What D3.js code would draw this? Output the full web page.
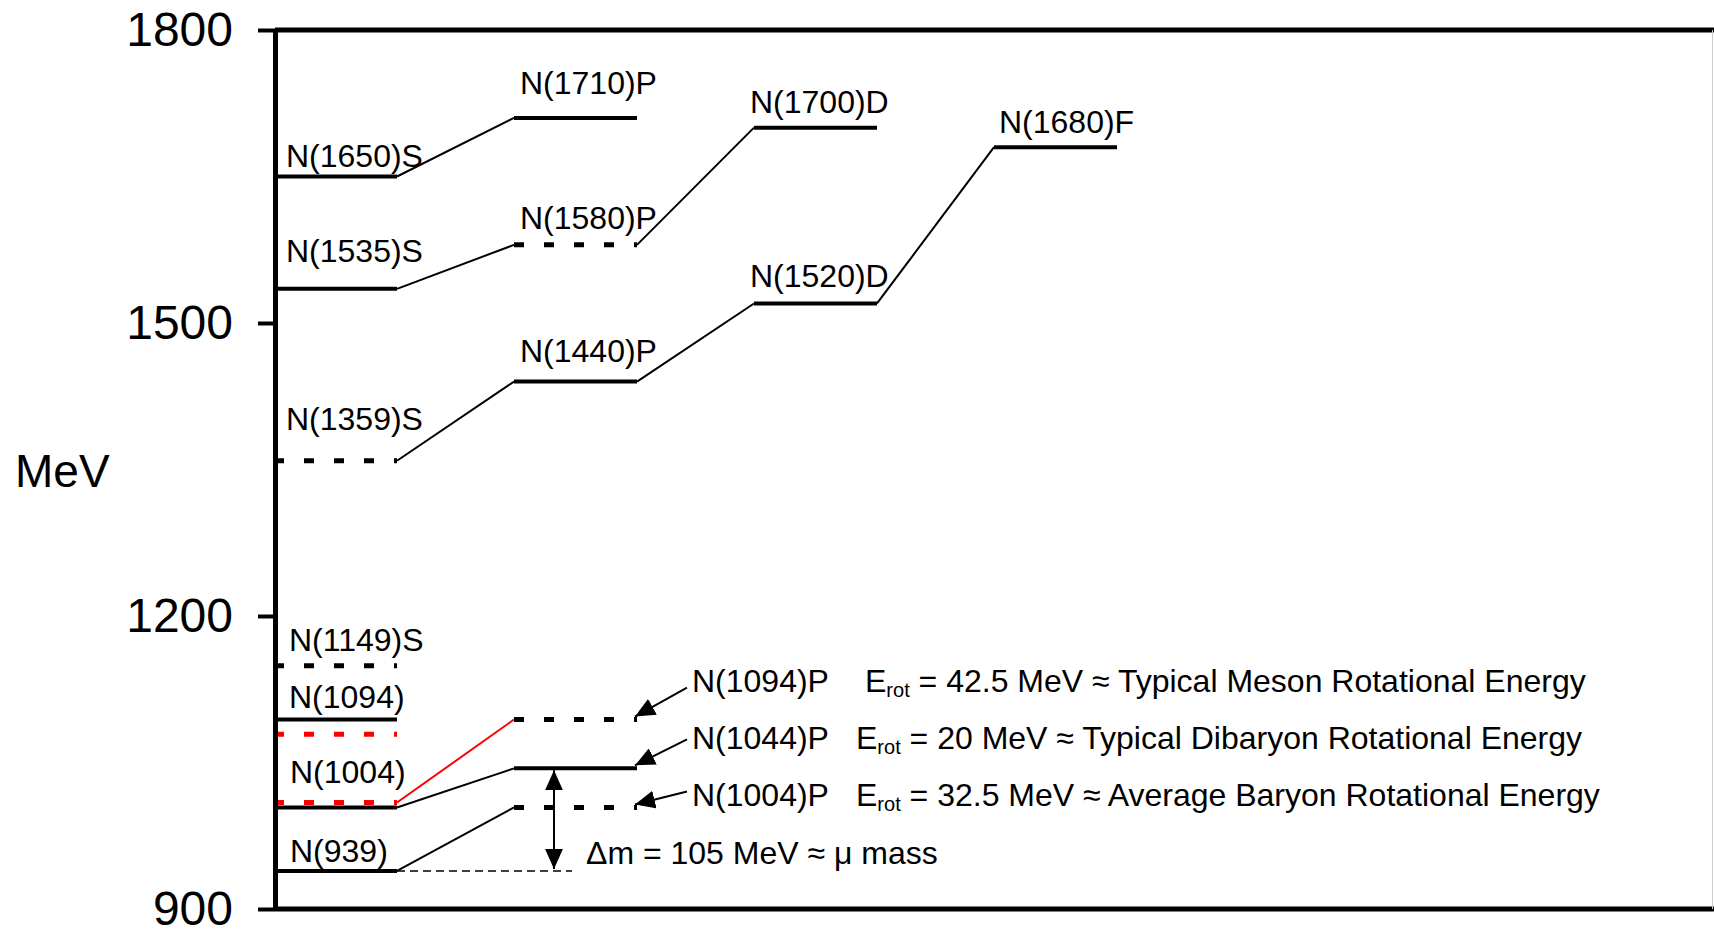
<!DOCTYPE html>
<html>
<head>
<meta charset="utf-8">
<script src="https://cdn.jsdelivr.net/npm/d3@7"></script>
<style>
body { margin: 0; background: #fff; }
text { font-family: "Liberation Sans", Arial, sans-serif; fill: #000; }
</style>
</head>
<body>
<script>
// nucleon levels: name, mass (MeV), column (0 = S, 1 = P, 2 = D, 3 = F), observed or predicted
var names    = ["N(1650)S","N(1535)S","N(1359)S","N(1149)S","N(1094)","N(1004)","N(939)",
                "N(1710)P","N(1580)P","N(1440)P","N(1094)P","N(1044)P","N(1004)P",
                "N(1700)D","N(1520)D","N(1680)F"];
var masses   = [1650,1535,1359,1149,1094,1004,939, 1710,1580,1440,1094,1044,1004, 1700,1520,1680];
var columns  = [0,0,0,0,0,0,0, 1,1,1,1,1,1, 2,2,3];
var observed = [true,true,false,false,true,true,true, true,false,true,false,true,false, true,true,true];

// red shifted levels in the first column
var redMasses = [1079, 1009];

// transitions between columns
var links = [["N(1650)S","N(1710)P"],["N(1535)S","N(1580)P"],["N(1580)P","N(1700)D"],
             ["N(1359)S","N(1440)P"],["N(1440)P","N(1520)D"],["N(1520)D","N(1680)F"],
             ["N(939)","N(1004)P"],["N(1004)","N(1044)P"]];
var redLinkFrom = 1009, redLinkTo = "N(1094)P";

// annotations on the low P levels
var annoNames = ["N(1094)P","N(1044)P","N(1004)P"];
var annoErot  = ["42.5","20","32.5"];
var annoText  = ["Typical Meson Rotational Energy","Typical Dibaryon Rotational Energy","Average Baryon Rotational Energy"];
var deltaFrom = "N(939)", deltaTo = "N(1044)P", deltaM = 105;

var tickValues = [900,1200,1500,1800];

// layout only
var labelNudge = {"N(1650)S":[12,10],"N(1535)S":[12,27],"N(1359)S":[12,31],"N(1149)S":[15,15],
                  "N(1094)":[15,12],"N(1004)":[16,24],"N(939)":[16,9],
                  "N(1710)P":[6,24],"N(1580)P":[6,16],"N(1440)P":[6,20],
                  "N(1700)D":[-4,15],"N(1520)D":[-4,16],"N(1680)F":[5,14]};
var annoDy = [-28,-19,-1];
var annoArrowDy = [4,10,15];
var erotDx = [173,164,164];

var w = 1714, h = 931;
var colW = 123;
var fs = 32;

var svg = d3.select("body").append("svg").attr("width", w).attr("height", h);

var y = d3.scaleLinear().domain([900,1800]).range([909,30]);
var x = d3.scaleLinear().domain([0,4]).range([274,1234]);

var levels = names.map(function(n,i) {
	return {name: n, mass: masses[i], col: columns[i], obs: observed[i]};
});
function lev(n) { return levels.filter(function(d) { return d.name == n; })[0]; }

var defs = svg.append("defs");
defs.append("marker")
	.attr("id", "head")
	.attr("markerUnits", "userSpaceOnUse")
	.attr("viewBox", "0 0 20 18")
	.attr("markerWidth", 20)
	.attr("markerHeight", 18)
	.attr("refX", 20)
	.attr("refY", 9)
	.attr("orient", "auto-start-reverse")
	.append("path")
	.attr("d", "M0,0L20,9L0,18Z")
	.attr("fill", "#000");

// frame
svg.append("line")
	.attr("x1", 275).attr("x2", w)
	.attr("y1", y(1800)).attr("y2", y(1800))
	.attr("stroke", "#000").attr("stroke-width", 5);
svg.append("line")
	.attr("x1", 275).attr("x2", w)
	.attr("y1", y(900)).attr("y2", y(900))
	.attr("stroke", "#000").attr("stroke-width", 5);
svg.append("line")
	.attr("x1", w - 1.5).attr("x2", w - 1.5)
	.attr("y1", y(1800)).attr("y2", y(900))
	.attr("stroke", "#ccc").attr("stroke-width", 1);

// connecting lines
svg.selectAll(".link")
	.data(links)
	.enter()
	.append("line")
	.attr("x1", function(d) { return x(lev(d[0]).col) + colW; })
	.attr("y1", function(d) { return y(lev(d[0]).mass); })
	.attr("x2", function(d) { return x(lev(d[1]).col); })
	.attr("y2", function(d) { return y(lev(d[1]).mass); })
	.attr("stroke", "#000")
	.attr("stroke-width", 2);

svg.append("line")
	.attr("x1", x(0) + colW).attr("y1", y(redLinkFrom))
	.attr("x2", x(lev(redLinkTo).col)).attr("y2", y(lev(redLinkTo).mass))
	.attr("stroke", "#ff0000").attr("stroke-width", 2);

// levels
svg.selectAll(".level")
	.data(levels)
	.enter()
	.append("line")
	.attr("x1", function(d) { return x(d.col); })
	.attr("x2", function(d) { return x(d.col) + colW; })
	.attr("y1", function(d) { return y(d.mass); })
	.attr("y2", function(d) { return y(d.mass); })
	.attr("stroke", "#000")
	.attr("stroke-width", function(d) { return d.obs ? 4 : 5; })
	.attr("stroke-dasharray", function(d) { return d.obs ? null : "10,20"; });

svg.selectAll(".red")
	.data(redMasses)
	.enter()
	.append("line")
	.attr("x1", x(0)).attr("x2", x(0) + colW)
	.attr("y1", function(d) { return y(d); })
	.attr("y2", function(d) { return y(d); })
	.attr("stroke", "#ff0000")
	.attr("stroke-width", 5)
	.attr("stroke-dasharray", "10,20");

// level labels
svg.selectAll(".lab")
	.data(levels.filter(function(d) { return annoNames.indexOf(d.name) < 0; }))
	.enter()
	.append("text")
	.text(function(d) { return d.name; })
	.attr("x", function(d) { return x(d.col) + labelNudge[d.name][0]; })
	.attr("y", function(d) { return y(d.mass) - labelNudge[d.name][1]; })
	.attr("font-size", fs + "px");

// axis
var axis = svg.append("g")
	.attr("transform", "translate(275,0)")
	.call(d3.axisLeft(y).tickValues(tickValues).tickSize(17).tickSizeOuter(0).tickPadding(25).tickFormat(d3.format("d")));
axis.attr("font-family", null).attr("font-size", null);
axis.select(".domain").attr("stroke-width", 5);
axis.selectAll(".tick line").attr("stroke-width", 4);
axis.selectAll(".tick text").attr("font-size", "48px").attr("dy", "0.33em");

svg.append("text")
	.text("MeV")
	.attr("x", 15)
	.attr("y", 487)
	.attr("font-size", "46px");

// annotations
var labX = x(1) + colW + 55;
annoNames.forEach(function(n, i) {
	var d = lev(n);
	var base = y(d.mass) + annoDy[i];
	svg.append("line")
		.attr("x1", labX - 5).attr("y1", base - annoArrowDy[i])
		.attr("x2", x(d.col) + colW - 2).attr("y2", y(d.mass) - 3)
		.attr("stroke", "#000").attr("stroke-width", 2)
		.attr("marker-end", "url(#head)");
	var t = svg.append("text").attr("x", labX).attr("y", base).attr("font-size", fs + "px");
	t.append("tspan").text(n);
	t.append("tspan").attr("x", labX + erotDx[i]).text("E");
	t.append("tspan").attr("font-size", "20px").attr("dy", 5).text("rot");
	t.append("tspan").attr("dy", -5).text(" = " + annoErot[i] + " MeV \u2248 " + annoText[i]);
});

// delta m arrow
var dx = x(1) + 40;
svg.append("line")
	.attr("x1", dx).attr("x2", dx)
	.attr("y1", y(lev(deltaTo).mass) + 2)
	.attr("y2", y(lev(deltaFrom).mass) - 2)
	.attr("stroke", "#000").attr("stroke-width", 2)
	.attr("marker-start", "url(#head)")
	.attr("marker-end", "url(#head)");
svg.append("line")
	.attr("x1", x(0) + colW).attr("x2", x(1) + 58)
	.attr("y1", y(lev(deltaFrom).mass)).attr("y2", y(lev(deltaFrom).mass))
	.attr("stroke", "#000").attr("stroke-width", 1.5)
	.attr("stroke-dasharray", "8,5");
svg.append("text")
	.text("\u0394m = " + deltaM + " MeV \u2248 \u03bc mass")
	.attr("x", x(1) + 72)
	.attr("y", y(lev(deltaFrom).mass) - 7)
	.attr("font-size", fs + "px");
</script>
</body>
</html>
